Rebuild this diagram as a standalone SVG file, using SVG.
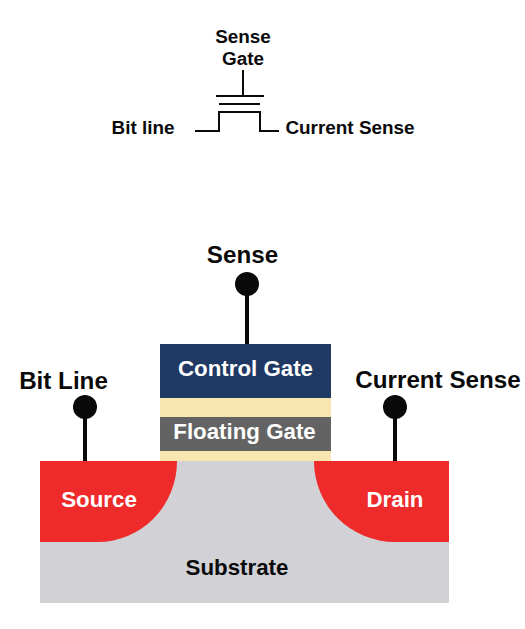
<svg xmlns="http://www.w3.org/2000/svg" width="525" height="629" viewBox="0 0 525 629">
<style>
text{font-family:"Liberation Sans",Arial,sans-serif;font-weight:700;text-anchor:middle}
.s{font-size:18.9px;fill:#0a0a0a}
.b{font-size:24.2px;fill:#0a0a0a}
.w{font-size:22.3px;fill:#fff}
.l{fill:none;stroke:#0a0a0a;stroke-width:2}
.p{fill:none;stroke:#0a0a0a;stroke-width:4}
</style>
<rect width="525" height="629" fill="#fff"/>
<g id="substrate"><path d="M40 461H449V603H40Z" fill="#d1d1d6"/><text class="b" x="237" y="575" style="font-size:22.3px">Substrate</text></g>
<g id="source"><path d="M40 461H177A79 81 0 0 1 98 542H40Z" fill="#ee2a2a"/><text class="w" x="99" y="507">Source</text></g>
<g id="drain"><path d="M449 461H314A81 81 0 0 0 395 542H449Z" fill="#ee2a2a"/><text class="w" x="395" y="507">Drain</text></g>
<g id="oxide"><rect x="160" y="398" width="171" height="63" fill="#f8e6b0"/></g>
<g id="control-gate"><rect x="160" y="344" width="171" height="54" fill="#1f3864"/><text class="w" x="245.500" y="376">Control Gate</text></g>
<g id="floating-gate"><rect x="160" y="417" width="171" height="34" fill="#636363"/><text class="w" x="244.500" y="439">Floating Gate</text></g>
<g id="connectors">
<path class="p" d="M247 284V344M85 407V461M395 407V461"/>
<path class="l" d="M243 70V96M216 96H264M219 104H260M195 131H219V112H260V131H279"/>
</g>
<g id="sense"><circle cx="247" cy="284" r="12" fill="#0a0a0a"/><text class="b" x="242.500" y="263">Sense</text></g>
<g id="bit-line"><circle cx="85" cy="407" r="12" fill="#0a0a0a"/><text class="b" x="63.500" y="389">Bit Line</text></g>
<g id="current-sense"><circle cx="395" cy="407" r="12" fill="#0a0a0a"/><text class="b" x="438" y="388">Current Sense</text></g>
<g id="symbol-labels"><text class="s" x="243" y="43">Sense</text><text class="s" x="243" y="65">Gate</text><text class="s" x="143" y="134">Bit line</text><text class="s" x="350" y="134">Current Sense</text></g>
</svg>
